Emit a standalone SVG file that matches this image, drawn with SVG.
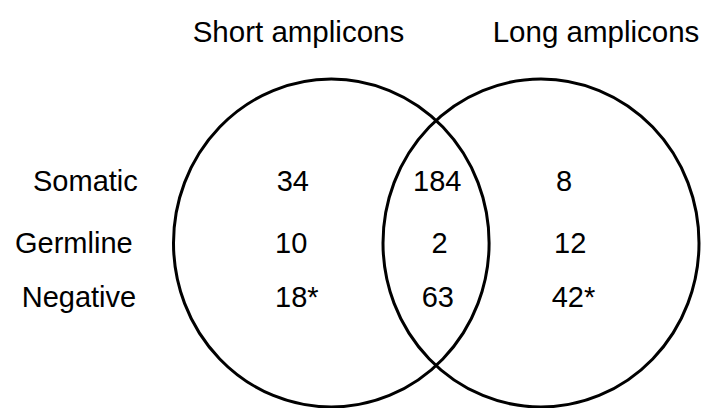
<svg xmlns="http://www.w3.org/2000/svg" width="703" height="408" viewBox="0 0 703 408">
<style>
text{font-family:"Liberation Sans",Arial,sans-serif;font-size:29.5px;fill:#000}
.s{font-size:29px}
.c{fill:none;stroke:#000;stroke-width:3}
</style>
<rect width="703" height="408" fill="#fff"/>
<g id="set-short">
<ellipse class="c" cx="331.3" cy="243" rx="157.8" ry="164"/>
<text x="192.7" y="42">Short amplicons</text>
</g>
<g id="set-long">
<ellipse class="c" cx="541" cy="243" rx="158" ry="164"/>
<text x="492.7" y="42">Long amplicons</text>
</g>
<g id="row-labels">
<text class="s" x="33" y="190.5">Somatic</text>
<text class="s" x="15" y="252.5">Germline</text>
<text class="s" x="21.7" y="306.5">Negative</text>
</g>
<g id="counts-short">
<text class="s" x="276.7" y="190.5">34</text>
<text class="s" x="275" y="252.5">10</text>
<text class="s" x="275" y="306.5">18*</text>
</g>
<g id="counts-both">
<text class="s" x="413" y="190.5">184</text>
<text class="s" x="431.5" y="252.5">2</text>
<text class="s" x="421.7" y="306.5">63</text>
</g>
<g id="counts-long">
<text class="s" x="556" y="190.5">8</text>
<text class="s" x="554" y="252.5">12</text>
<text class="s" x="551.7" y="306.5">42*</text>
</g>
<g id="connectors"></g>
</svg>
